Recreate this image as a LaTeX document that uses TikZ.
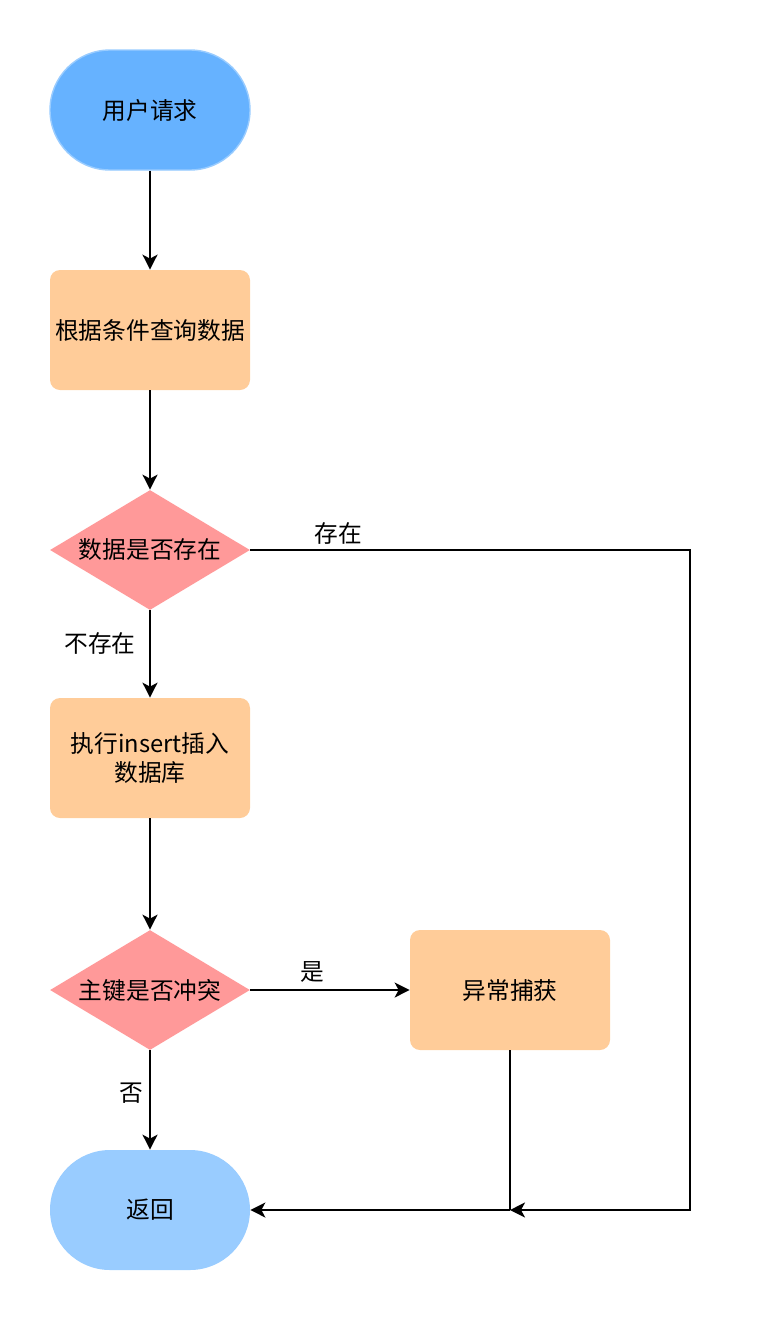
\documentclass[tikz,border=0pt]{standalone}
\usepackage{fontspec}
\usepackage{xcolor}
\usepackage{tikz}
\setmainfont{Noto Sans CJK SC}
\usetikzlibrary{shapes,arrows,positioning,calc,arrows.meta}

\definecolor{startblue}{HTML}{66B2FF}
\definecolor{endblue}{HTML}{99CCFF}
\definecolor{boxorange}{HTML}{FFCC99}
\definecolor{decred}{HTML}{FF9999}

\tikzset{
    terminal/.style={rectangle, rounded corners=1.2cm, minimum width=4cm, minimum height=2.4cm, inner sep=0pt},
    process/.style={rectangle, rounded corners=0.2cm, fill=boxorange, minimum width=4cm, minimum height=2.4cm, align=center, inner sep=0pt},
    decision/.style={diamond, aspect=1.667, fill=decred, minimum width=4cm, minimum height=2.4cm, inner sep=0pt},
    flow/.style={line width=1.1pt, -{Stealth[length=0.3cm, width=0.3cm, inset=0.08cm]}},
    plain/.style={line width=1.1pt},
    lbl/.style={inner sep=0pt}
}

\begin{document}
\begin{tikzpicture}[font=\fontsize{13.5}{18}\selectfont]
    \useasboundingbox (0,0) rectangle (15.16,-26.44);

    % Main column
    \node[terminal, fill=startblue, draw=endblue, line width=0.8pt] (start) at (3,-2.2) {用户请求};
    \node[process] (query) at (3,-6.6) {根据条件查询数据};
    \node[decision] (exists) at (3,-11) {数据是否存在};
    \node[process] (insert) at (3,-15.16) {执行insert插入\\[-2pt]数据库};
    \node[decision] (conflict) at (3,-19.8) {主键是否冲突};
    \node[terminal, fill=endblue] (ret) at (3,-24.2) {返回};

    % Side branch
    \node[process] (catch) at (10.2,-19.8) {异常捕获};

    % Bend points
    \coordinate (corner) at (13.8,-24.2);
    \coordinate (join) at (10.2,-24.2);

    % Labels
    \node[lbl] (lExist) at (6.76,-10.66) {存在};
    \node[lbl] (lNotExist) at (2,-12.86) {不存在};
    \node[lbl] (lYes) at (6.24,-19.44) {是};
    \node[lbl] (lNo) at (2.62,-21.86) {否};

    % Connections
    \draw [flow] (start.south) -- (query.north);
    \draw [flow] (query.south) -- (exists.north);
    \draw [flow] (exists.south) -- (insert.north);
    \draw [flow] (insert.south) -- (conflict.north);
    \draw [flow] (conflict.east) -- (catch.west);
    \draw [flow] (conflict.south) -- (ret.north);
    \draw [flow] (exists.east) -| (corner) -- (join);
    \draw [plain] (catch.south) -- (join);
    \draw [flow] (join) -- (ret.east);
\end{tikzpicture}
\end{document}
